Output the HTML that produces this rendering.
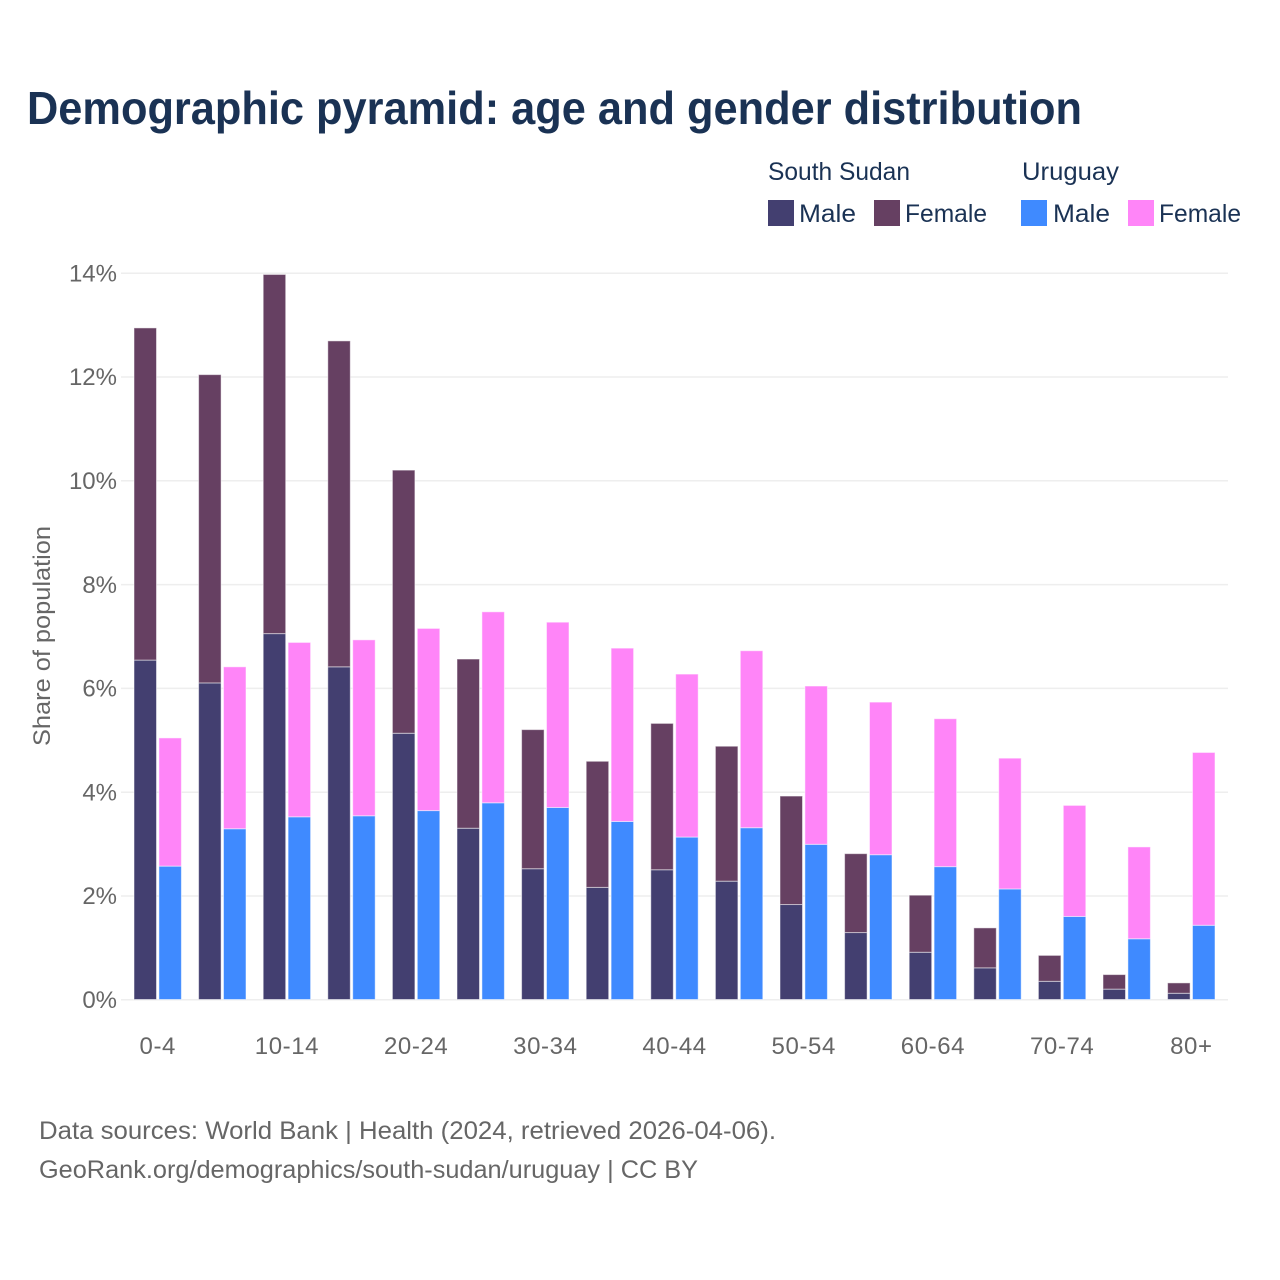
<!DOCTYPE html>
<html lang="en">
<head>
<meta charset="utf-8">
<title>Demographic pyramid: age and gender distribution</title>
<style>
html,body{margin:0;padding:0;background:#fff;}
svg{display:block;}
text{font-family:"Liberation Sans",sans-serif;}
</style>
</head>
<body>
<svg id="chart" width="1280" height="1280" viewBox="0 0 1280 1280" xmlns="http://www.w3.org/2000/svg">
  <rect x="0" y="0" width="1280" height="1280" fill="#ffffff"/>
  <text x="27" y="124" font-size="46" font-weight="700" fill="#1a3254" textLength="1055" lengthAdjust="spacingAndGlyphs">Demographic pyramid: age and gender distribution</text>

  <g font-size="25" fill="#1a3254">
    <text x="768" y="180" textLength="142" lengthAdjust="spacingAndGlyphs">South Sudan</text>
    <text x="1022" y="180" textLength="97" lengthAdjust="spacingAndGlyphs">Uruguay</text>
    <rect x="768" y="200" width="26" height="26" fill="#433f70"/>
    <text x="799" y="222" textLength="57" lengthAdjust="spacingAndGlyphs">Male</text>
    <rect x="874" y="200" width="26" height="26" fill="#664062"/>
    <text x="905" y="222" textLength="82" lengthAdjust="spacingAndGlyphs">Female</text>
    <rect x="1021" y="200" width="26" height="26" fill="#3f8aff"/>
    <text x="1053" y="222" textLength="57" lengthAdjust="spacingAndGlyphs">Male</text>
    <rect x="1128" y="200" width="26" height="26" fill="#ff85f8"/>
    <text x="1159" y="222" textLength="82" lengthAdjust="spacingAndGlyphs">Female</text>
  </g>

  <g id="grid"></g>
  <g id="bars"></g>
  <g id="yticks"></g>
  <g id="xticks"></g>

  <text transform="translate(50,636) rotate(-90)" text-anchor="middle" font-size="24" fill="#666666" textLength="220" lengthAdjust="spacingAndGlyphs">Share of population</text>

  <text x="39" y="1139" font-size="25" fill="#666666" textLength="737" lengthAdjust="spacingAndGlyphs">Data sources: World Bank | Health (2024, retrieved 2026-04-06).</text>
  <text x="39" y="1178" font-size="25" fill="#666666" textLength="659" lengthAdjust="spacingAndGlyphs">GeoRank.org/demographics/south-sudan/uruguay | CC BY</text>
</svg>
<script>
const categories = ["0-4","5-9","10-14","15-19","20-24","25-29","30-34","35-39","40-44","45-49","50-54","55-59","60-64","65-69","70-74","75-79","80+"];
const southSudanMale = [6.54,6.10,7.05,6.41,5.13,3.30,2.52,2.16,2.50,2.28,1.83,1.29,0.91,0.61,0.35,0.20,0.12];
const southSudanFemale = [6.40,5.94,6.92,6.28,5.07,3.26,2.68,2.43,2.82,2.60,2.09,1.52,1.10,0.77,0.50,0.28,0.20];
const uruguayMale = [2.57,3.29,3.52,3.54,3.64,3.79,3.70,3.43,3.13,3.31,2.99,2.79,2.56,2.13,1.60,1.17,1.43];
const uruguayFemale = [2.47,3.12,3.36,3.39,3.51,3.68,3.57,3.34,3.14,3.41,3.05,2.94,2.85,2.52,2.14,1.77,3.33];
const yTickValues = [0,2,4,6,8,10,12,14];

const SVG_NS = "http://www.w3.org/2000/svg";
function yScale(v){ return 999.5 - v * 51.9; }
function groupCenter(i){ return 157.75 + i * 64.6; }

const gridGroup = document.getElementById("grid");
const yTickGroup = document.getElementById("yticks");
yTickValues.forEach(function(t){
  const line = document.createElementNS(SVG_NS, "line");
  
  
  line.setAttribute("x1", 121);
  line.setAttribute("x2", 1228);
  line.setAttribute("y1", yScale(t) + 0.3);
  line.setAttribute("y2", yScale(t) + 0.3);
  line.setAttribute("stroke", "#eeeeee");
  line.setAttribute("stroke-width", "1.5");
  gridGroup.appendChild(line);

  const label = document.createElementNS(SVG_NS, "text");
  
  
  label.setAttribute("x", 117);
  label.setAttribute("y", yScale(t) + 8.5);
  label.setAttribute("text-anchor", "end");
  label.setAttribute("font-size", "24");
  label.setAttribute("fill", "#666666");
  label.textContent = t + "%";
  yTickGroup.appendChild(label);
});

const barGroup = document.getElementById("bars");
function addBar(cx, v0, v1, color, name){
  const rect = document.createElementNS(SVG_NS, "rect");
  
  
  rect.setAttribute("x", cx - 11.25);
  rect.setAttribute("width", 22.5);
  rect.setAttribute("y", yScale(v1));
  rect.setAttribute("height", yScale(v0) - yScale(v1));
  rect.setAttribute("fill", color);
  rect.setAttribute("stroke", "#ffffff");
  rect.setAttribute("stroke-opacity", "0.5");
  rect.setAttribute("stroke-width", "1");
  barGroup.appendChild(rect);
}

const xTickGroup = document.getElementById("xticks");
categories.forEach(function(cat, i){
  const c = groupCenter(i);
  addBar(c - 12.5, 0, southSudanMale[i], "#433f70", "bar-south-sudan-male");
  addBar(c - 12.5, southSudanMale[i], southSudanMale[i] + southSudanFemale[i], "#664062", "bar-south-sudan-female");
  addBar(c + 12.4, 0, uruguayMale[i], "#3f8aff", "bar-uruguay-male");
  addBar(c + 12.4, uruguayMale[i], uruguayMale[i] + uruguayFemale[i], "#ff85f8", "bar-uruguay-female");

  if (i % 2 === 0) {
    const label = document.createElementNS(SVG_NS, "text");
    
    
    label.setAttribute("x", c);
    label.setAttribute("y", 1054);
    label.setAttribute("text-anchor", "middle");
    label.setAttribute("font-size", "24");
    label.setAttribute("letter-spacing", "0.6");
    label.setAttribute("fill", "#666666");
    label.textContent = cat;
    xTickGroup.appendChild(label);
  }
});
</script>
</body>
</html>
